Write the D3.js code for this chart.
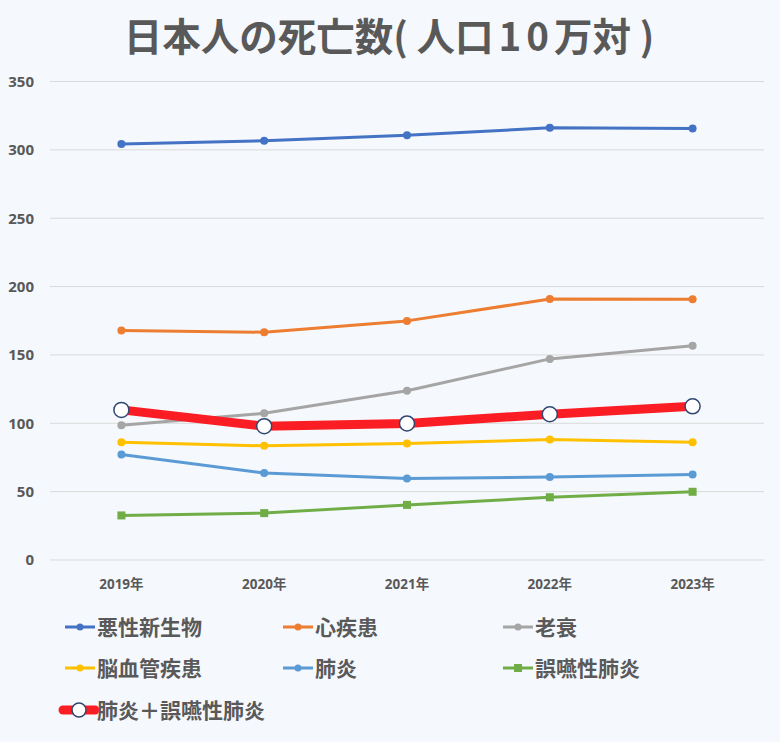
<!DOCTYPE html>
<html><head><meta charset="utf-8">
<script src="https://cdn.jsdelivr.net/npm/d3@7"></script>
<style>
html,body{margin:0;padding:0;background:#f5f8fc;}
svg{display:block;}
</style></head>
<body>
<script>
const years = ["2019年","2020年","2021年","2022年","2023年"];
const cancer = [304.2, 306.6, 310.7, 316.1, 315.6];
const heart = [167.9, 166.6, 174.9, 190.9, 190.7];
const senility = [98.5, 107.3, 123.8, 147.1, 156.7];
const stroke = [86.1, 83.5, 85.2, 88.1, 86.1];
const pneumonia = [77.2, 63.6, 59.6, 60.7, 62.5];
const aspiration = [32.6, 34.3, 40.3, 45.9, 49.9];
const pneumoniaTotal = [109.8, 97.9, 99.9, 106.6, 112.4];
const yTicks = [0, 50, 100, 150, 200, 250, 300, 350];
const seriesNames = ["悪性新生物","心疾患","老衰","脳血管疾患","肺炎","誤嚥性肺炎","肺炎＋誤嚥性肺炎"];
const titleParts = ["日本人の死亡数( 人口", "10", "万対 )"];

const series = [
  {name: seriesNames[0], values: cancer, color: "#4472C4", marker: "circle"},
  {name: seriesNames[1], values: heart, color: "#ED7D31", marker: "circle"},
  {name: seriesNames[2], values: senility, color: "#A5A5A5", marker: "circle"},
  {name: seriesNames[3], values: stroke, color: "#FFC000", marker: "circle"},
  {name: seriesNames[4], values: pneumonia, color: "#5B9BD5", marker: "circle"},
  {name: seriesNames[5], values: aspiration, color: "#70AD47", marker: "square"},
  {name: seriesNames[6], values: pneumoniaTotal, color: "#FA1E24", marker: "big"}
];

const W = 780, H = 742;
const svg = d3.select("body").append("svg").attr("width", W).attr("height", H);
svg.append("rect").attr("width", W).attr("height", H).attr("fill", "#f5f8fc");

const textColor = "#595959";
const cjk = "'Noto Sans CJK JP', 'Noto Sans', sans-serif";
const latin = "'Open Sans', 'Noto Sans CJK JP', sans-serif";

const t = svg.append("text").attr("x", 389).attr("y", 51).attr("text-anchor", "middle")
  .attr("font-family", cjk).attr("font-weight", 700).attr("font-size", 38.5)
  .attr("fill", textColor);
t.append("tspan").text(titleParts[0]);
t.append("tspan").attr("dx", 5).attr("letter-spacing", 5).text(titleParts[1]);
t.append("tspan").text(titleParts[2]);

const x = d3.scaleBand().domain(years).range([50, 764]);
const y = d3.scaleLinear().domain([0, 350]).range([560, 81.5]);

// gridlines
svg.append("g").selectAll("line").data(yTicks).join("line")
  .attr("x1", 50).attr("x2", 764)
  .attr("y1", d => y(d)).attr("y2", d => y(d))
  .attr("stroke", "#d9d9d9").attr("stroke-width", 1);

// y axis
const yAxis = svg.append("g").attr("transform", "translate(50,0)")
  .call(d3.axisLeft(y).tickValues(yTicks).tickSize(0).tickPadding(16));
yAxis.select(".domain").remove();
yAxis.selectAll("text").attr("font-family", latin).attr("font-weight", 700)
  .attr("font-size", 15).attr("fill", textColor);

// x axis
const xAxis = svg.append("g").attr("transform", "translate(0,560)")
  .call(d3.axisBottom(x).tickSize(0).tickPadding(19));
xAxis.select(".domain").remove();
xAxis.selectAll("text").attr("font-family", latin).attr("font-weight", 700)
  .attr("font-size", 13.5).attr("fill", textColor);

const cx = d => x(d) + x.bandwidth() / 2;
const line = d3.line().x((d, i) => cx(years[i])).y(d => y(d));

series.forEach(s => {
  const g = svg.append("g");
  g.append("path").datum(s.values).attr("d", line).attr("fill", "none")
    .attr("stroke", s.color).attr("stroke-width", s.marker === "big" ? 9 : 3)
    .attr("stroke-linejoin", "round");
  if (s.marker === "circle") {
    g.selectAll("circle").data(s.values).join("circle")
      .attr("cx", (d, i) => cx(years[i])).attr("cy", d => y(d)).attr("r", 4)
      .attr("fill", s.color);
  } else if (s.marker === "square") {
    g.selectAll("rect").data(s.values).join("rect")
      .attr("x", (d, i) => cx(years[i]) - 4).attr("y", d => y(d) - 4)
      .attr("width", 8).attr("height", 8).attr("fill", s.color);
  } else {
    g.selectAll("circle").data(s.values).join("circle")
      .attr("cx", (d, i) => cx(years[i])).attr("cy", d => y(d)).attr("r", 7.5)
      .attr("fill", "#ffffff").attr("stroke", "#2f4770").attr("stroke-width", 1.5);
  }
});

// legend
const legendPos = [[65, 627], [283, 627], [503, 627], [65, 668], [283, 668], [503, 668], [65, 710]];
series.forEach((s, i) => {
  const [lx, ly] = legendPos[i];
  const g = svg.append("g").attr("transform", `translate(${lx},${ly})`);
  if (s.marker === "big") {
    g.append("line").attr("x1", -2).attr("x2", 30).attr("y1", 0).attr("y2", 0)
      .attr("stroke", s.color).attr("stroke-width", 9).attr("stroke-linecap", "round");
    g.append("circle").attr("cx", 14).attr("cy", 0).attr("r", 7)
      .attr("fill", "#fff").attr("stroke", "#2f4770").attr("stroke-width", 1.5);
  } else {
    g.append("line").attr("x1", 0).attr("x2", 30).attr("y1", 0).attr("y2", 0)
      .attr("stroke", s.color).attr("stroke-width", 3);
    if (s.marker === "square") {
      g.append("rect").attr("x", 11).attr("y", -4).attr("width", 8).attr("height", 8).attr("fill", s.color);
    } else {
      g.append("circle").attr("cx", 15).attr("cy", 0).attr("r", 3.5).attr("fill", s.color);
    }
  }
  g.append("text").attr("x", 32).attr("y", 0).attr("dy", "0.36em")
    .attr("font-family", cjk).attr("font-weight", 700).attr("font-size", 21)
    .attr("fill", textColor).text(s.name);
});
</script>
</body></html>
